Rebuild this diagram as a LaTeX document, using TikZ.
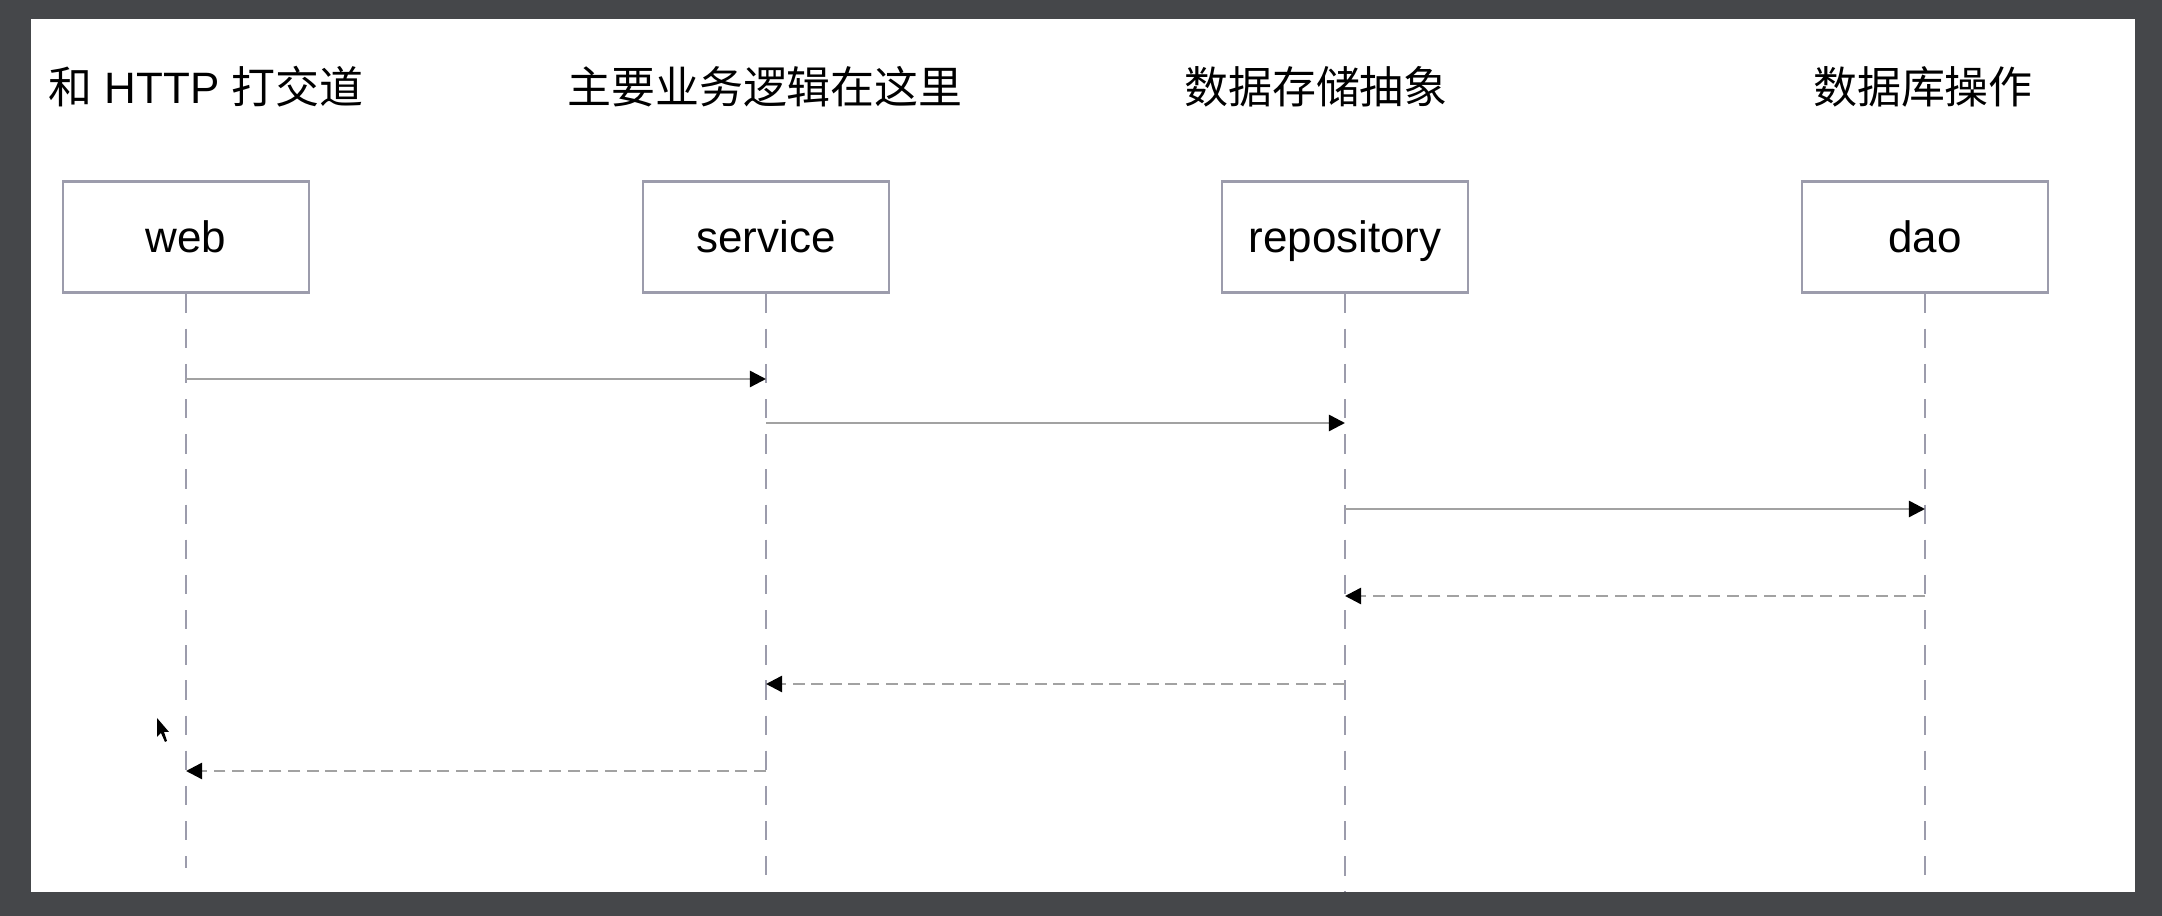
\documentclass[tikz,border=0pt]{standalone}
\usepackage{fontspec}
\setmainfont{Liberation Sans}
\newfontfamily\cjk{Noto Sans CJK SC}
\usetikzlibrary{arrows.meta}
\definecolor{frame}{HTML}{45474A}
\definecolor{boxline}{HTML}{9C9CAC}
\definecolor{msgline}{HTML}{A2A2A2}

\begin{document}
\begin{tikzpicture}[x=0.01cm, y=-0.01cm,
    every node/.style={font=\fontsize{12.5}{15}\selectfont},
    actor/.style={draw=boxline, line width=0.6pt, minimum width=2.45cm, minimum height=1.11cm, inner sep=0pt, text height=9pt, text depth=0pt},
    lifeline/.style={draw=boxline, line width=0.5pt, dash pattern=on 11\pgflinewidth off 9\pgflinewidth},
    msg/.style={draw=msgline, line width=0.7pt, -{Triangle[length=4.6pt,width=4.6pt,color=black]}},
    reply/.style={msg, dash pattern=on 3.4pt off 1.9pt}]
    % Background
    \fill[frame] (0,0) rectangle (2162,916);
    \fill[white] (31,19) rectangle (2135,892);

    % Headers
    \node (h1) at (206, 87) {{\cjk 和} HTTP {\cjk 打交道}};
    \node (h2) at (765, 87) {\cjk 主要业务逻辑在这里};
    \node (h3) at (1316, 87) {\cjk 数据存储抽象};
    \node (h4) at (1923, 87) {\cjk 数据库操作};

    % Boxes
    \node[actor] (web) at (186, 237) {web};
    \node[actor] (service) at (766, 237) {service};
    \node[actor] (repo) at (1345, 237) {repository};
    \node[actor] (dao) at (1925, 237) {dao};

    % Lifelines
    \coordinate (web-end) at (186, 868);
    \coordinate (service-end) at (766, 875);
    \coordinate (repo-end) at (1345, 892);
    \coordinate (dao-end) at (1925, 875);
    \draw[lifeline] (web.south) -- (web-end);
    \draw[lifeline] (service.south) -- (service-end);
    \draw[lifeline] (repo.south) -- (repo-end);
    \draw[lifeline] (dao.south) -- (dao-end);

    % Messages
    \coordinate (t1) at (0, 379);
    \coordinate (t2) at (0, 423);
    \coordinate (t3) at (0, 509);
    \coordinate (t4) at (0, 596);
    \coordinate (t5) at (0, 684);
    \coordinate (t6) at (0, 771);
    \draw[msg] (web |- t1) -- (service |- t1);
    \draw[msg] (service |- t2) -- (repo |- t2);
    \draw[msg] (repo |- t3) -- (dao |- t3);
    \draw[reply] (dao |- t4) -- (repo |- t4);
    \draw[reply] (repo |- t5) -- (service |- t5);
    \draw[reply] (service |- t6) -- (web |- t6);

    % Cursor
    \fill[black] (157,718) -- (157,737) -- (161,733) -- (165,742) -- (167,741) -- (164,732) -- (169,732) -- cycle;
\end{tikzpicture}
\end{document}
